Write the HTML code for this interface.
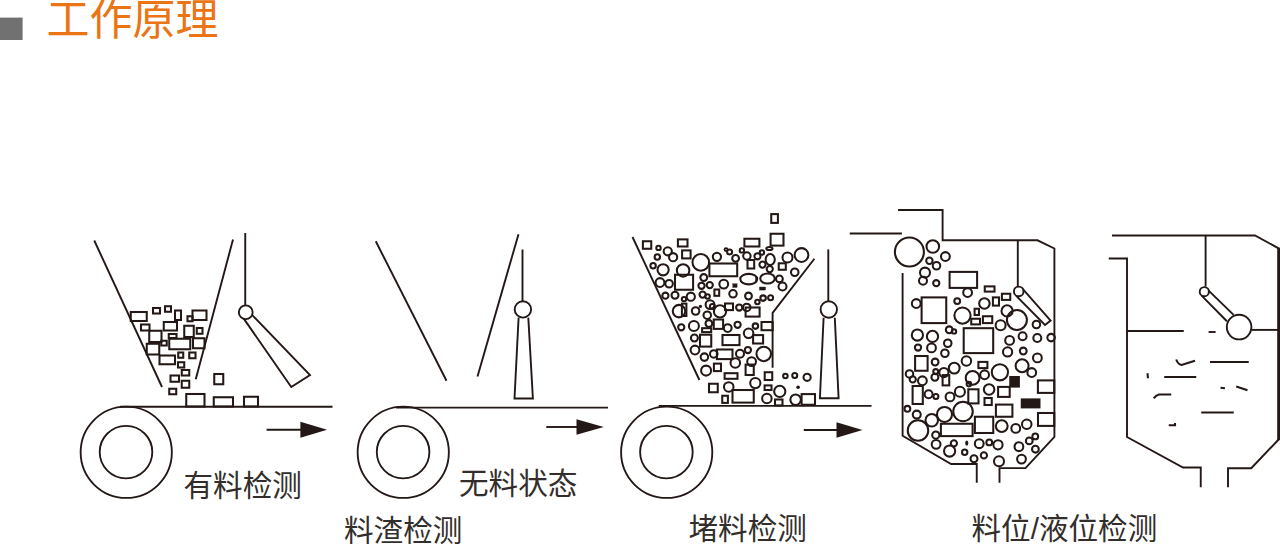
<!DOCTYPE html>
<html lang="zh-CN">
<head>
<meta charset="utf-8">
<title>工作原理</title>
<style>
html,body{margin:0;padding:0;background:#fff;}
body{width:1280px;height:544px;overflow:hidden;font-family:"Liberation Sans",sans-serif;}
svg{display:block;position:absolute;left:0;top:0;}
.ink{fill:none;stroke:#231815;stroke-width:1.9;stroke-linecap:butt;stroke-linejoin:miter;}
.lbl{font-family:"Liberation Sans","Noto Sans CJK SC",sans-serif;font-size:29.6px;fill:#332e2b;}
.ttl{font-family:"Liberation Sans","Noto Sans CJK SC",sans-serif;font-size:43px;fill:#eb7414;}
</style>
</head>
<body>
<svg width="1280" height="544" viewBox="0 0 1280 544">
<rect x="0" y="0" width="1280" height="544" fill="#ffffff"/>
<rect x="0" y="17.6" width="22.6" height="22.4" fill="#727171"/>
<g class="ink">
<g id="s1">
<line x1="94.25" y1="240.5" x2="162" y2="387"/>
<line x1="233" y1="239.5" x2="195.75" y2="379.25"/>
<line x1="245.25" y1="233" x2="245.25" y2="305.4"/>
<circle cx="245.75" cy="312.25" r="6.9"/>
<polyline points="243.75,318.6 291.25,387 310,375 252.3,315.2"/>
<line x1="120" y1="406.7" x2="332.5" y2="406.7" stroke-width="1.85"/>
<circle cx="126.25" cy="452.3" r="45.6" stroke-width="1.85"/>
<circle cx="126" cy="452.1" r="26.3" stroke-width="1.85"/>
<line x1="266.6" y1="429.7" x2="301" y2="429.7" stroke-width="1.9"/>
<polygon points="300.4,421.7 327.1,429.7 300.4,437.7" stroke-width="0" fill="#231815"/>
<g stroke-width="2.05">
<rect x="130.75" y="312" width="16" height="9"/>
<rect x="153" y="308" width="7" height="5.5"/>
<rect x="165" y="306.25" width="6" height="5.5"/>
<rect x="175" y="310.5" width="6" height="9.5"/>
<rect x="192.5" y="310.5" width="14" height="9.5"/>
<rect x="187.5" y="316.25" width="5" height="5"/>
<rect x="141" y="324.5" width="8.5" height="6"/>
<rect x="163.75" y="322" width="13.25" height="8.5"/>
<rect x="184.25" y="325.75" width="9.5" height="11.25"/>
<rect x="196.75" y="328" width="5.75" height="5.75"/>
<rect x="149.25" y="330.75" width="12.25" height="11.25"/>
<rect x="168.75" y="334" width="7.75" height="4"/>
<rect x="169.25" y="338.75" width="21" height="10.5"/>
<rect x="193" y="338.25" width="11.5" height="10"/>
<rect x="161.25" y="340.75" width="5.5" height="4.75"/>
<rect x="146.75" y="343.75" width="12.5" height="10.75"/>
<rect x="159.5" y="355.5" width="15.5" height="8.75"/>
<rect x="178.25" y="352.5" width="5" height="5.25"/>
<rect x="189.25" y="352.5" width="6.25" height="5.75"/>
<rect x="178" y="362.25" width="6.25" height="5.25"/>
<rect x="181.75" y="370" width="7.5" height="5.5"/>
<rect x="170.5" y="375.5" width="8.5" height="6.25"/>
<rect x="181.75" y="380.75" width="7.5" height="7"/>
<rect x="169.25" y="388.75" width="7" height="5.5"/>
<rect x="214.25" y="374" width="9" height="10.25"/>
<rect x="186.25" y="394" width="18.25" height="12.5"/>
<rect x="213.75" y="397.25" width="19.25" height="9.25"/>
<rect x="244" y="396.75" width="14" height="9.75"/>
</g>
</g>
<g id="s2">
<line x1="375.75" y1="241.25" x2="446.5" y2="380.75"/>
<line x1="518.5" y1="234.25" x2="477.5" y2="376.5"/>
<line x1="522.5" y1="249.5" x2="522.5" y2="301.2"/>
<circle cx="522.9" cy="309.4" r="8.2"/>
<polyline points="518.6,317.6 514.5,398.5 532.9,398.5 528.3,317.6"/>
<line x1="396" y1="407.6" x2="608" y2="407.6" stroke-width="1.85"/>
<circle cx="403.25" cy="452.3" r="45.6" stroke-width="1.85"/>
<circle cx="403.1" cy="452.1" r="26.3" stroke-width="1.85"/>
<line x1="546.25" y1="427" x2="577.5" y2="427" stroke-width="1.9"/>
<polygon points="576.5,419.2 603.75,427 576.5,434.8" stroke-width="0" fill="#231815"/>
</g>
<g id="s3">
<line x1="632.5" y1="237" x2="699.4" y2="380"/>
<polyline points="814.4,258.75 772.6,312.9 772.6,367.7"/>
<line x1="828.3" y1="249.4" x2="828.3" y2="301.3"/>
<circle cx="828.8" cy="309.5" r="8.2"/>
<polyline points="823.6,317.8 819.9,398.2 838.6,398.2 834.8,317.8"/>
<line x1="658.75" y1="405.9" x2="871.5" y2="405.9" stroke-width="1.85"/>
<circle cx="666.7" cy="452.3" r="45.6" stroke-width="1.85"/>
<circle cx="666.4" cy="452.1" r="26.3" stroke-width="1.85"/>
<line x1="803.75" y1="430" x2="837.5" y2="430" stroke-width="1.9"/>
<polygon points="836.5,422.2 862.5,430 836.5,437.8" stroke-width="0" fill="#231815"/>
<g stroke-width="2.05">
<rect x="642.9" y="241.25" width="8.35" height="7.5"/>
<rect x="677.9" y="239.4" width="9.6" height="7.1"/>
<rect x="682.1" y="250.4" width="8.5" height="8"/>
<rect x="744.4" y="238.75" width="15" height="7.75"/>
<rect x="770.6" y="233.75" width="12.9" height="11.85"/>
<rect x="771.25" y="214.1" width="6.65" height="8.8"/>
<rect x="709.4" y="263.5" width="27.8" height="12.75"/>
<rect x="747.5" y="260" width="6.7" height="8.5"/>
<rect x="778.75" y="263.3" width="7.05" height="6.45"/>
<rect x="675" y="274.75" width="18.1" height="15"/>
<rect x="714.4" y="289.5" width="4.8" height="6.3"/>
<rect x="681.9" y="303.6" width="4.5" height="12.4"/>
<rect x="725" y="303.5" width="8" height="6.6"/>
<rect x="745.6" y="307.5" width="14" height="9.1"/>
<rect x="713.75" y="319.5" width="9.35" height="9.4"/>
<rect x="702.1" y="328.2" width="9.1" height="3.9"/>
<rect x="761.5" y="322" width="11.1" height="8.2"/>
<rect x="753.1" y="335.1" width="10" height="8.4"/>
<rect x="700" y="334.7" width="11.25" height="11.9"/>
<rect x="722.5" y="335" width="17" height="10.1"/>
<rect x="716.9" y="349.5" width="15.6" height="9.6"/>
<rect x="745.6" y="364.6" width="8.15" height="10.4"/>
<rect x="713.9" y="363.6" width="7.1" height="7.5"/>
<rect x="724.6" y="373.2" width="12.9" height="5.6"/>
<rect x="764.7" y="372.25" width="7.55" height="7.75"/>
<rect x="709" y="383.75" width="8.75" height="8.5"/>
<rect x="764.6" y="385.4" width="6.9" height="4.6"/>
<rect x="732.5" y="390" width="21.25" height="12.6"/>
<rect x="722.25" y="395.75" width="5.65" height="7.15"/>
<rect x="775" y="399.5" width="7.5" height="5.9"/>
<rect x="801.6" y="394.1" width="13.4" height="10.65"/>
<rect x="732.75" y="283.75" width="4.35" height="3.75" stroke-width="0.3" fill="#231815"/>
<rect x="759.4" y="287" width="6.2" height="3.1" stroke-width="0.3" fill="#231815"/>
<circle cx="658.5" cy="247.9" r="2.2"/>
<circle cx="667.75" cy="251.25" r="4.1"/>
<circle cx="673.1" cy="257.2" r="4.1"/>
<circle cx="657.3" cy="257" r="2.7"/>
<circle cx="700.8" cy="262.4" r="8.3"/>
<circle cx="716.9" cy="256.8" r="4.1"/>
<circle cx="653.1" cy="265.8" r="2.7"/>
<circle cx="729.6" cy="251.9" r="2.5"/>
<circle cx="735.6" cy="258.3" r="3.4"/>
<circle cx="741.9" cy="250.4" r="2.2"/>
<circle cx="746.9" cy="256" r="3.7"/>
<circle cx="761.9" cy="252.5" r="2.2"/>
<circle cx="757.5" cy="256.25" r="3.1"/>
<circle cx="762.5" cy="264.6" r="3.1"/>
<circle cx="787.5" cy="257.5" r="5"/>
<circle cx="801.5" cy="255" r="6.9"/>
<circle cx="663.1" cy="269.75" r="5.6"/>
<circle cx="683.1" cy="270.4" r="6.25"/>
<circle cx="703.75" cy="277.5" r="3.4"/>
<circle cx="660" cy="282.5" r="4.4"/>
<circle cx="669.1" cy="283.75" r="3.75"/>
<circle cx="701.5" cy="285.75" r="3.1"/>
<circle cx="709.75" cy="285.1" r="3.1"/>
<circle cx="723.75" cy="284.1" r="4.4"/>
<circle cx="665.4" cy="295.7" r="3.1"/>
<circle cx="675" cy="295.2" r="3.5"/>
<circle cx="690.8" cy="296.7" r="4.1"/>
<circle cx="684" cy="299.1" r="2.2"/>
<circle cx="702.6" cy="294.6" r="3.1"/>
<circle cx="707.6" cy="296.5" r="2.2"/>
<circle cx="733" cy="293.8" r="3.75"/>
<circle cx="748.5" cy="296" r="3.4"/>
<circle cx="779.4" cy="278.9" r="3.4"/>
<circle cx="782.5" cy="286.5" r="4"/>
<circle cx="763.1" cy="298.1" r="2.75"/>
<circle cx="770.6" cy="297.7" r="2.5"/>
<circle cx="757.4" cy="302" r="2.2"/>
<circle cx="769.75" cy="269.1" r="3.1"/>
<circle cx="794.75" cy="272.25" r="3.75"/>
<circle cx="679" cy="311.1" r="6.25"/>
<circle cx="695.6" cy="311" r="3.75"/>
<circle cx="710" cy="304.6" r="4.4"/>
<circle cx="712.4" cy="306.4" r="2.5"/>
<circle cx="720" cy="311.4" r="6.1"/>
<circle cx="739.2" cy="307.5" r="3.1"/>
<circle cx="746.75" cy="307.4" r="3.75"/>
<circle cx="707.25" cy="315.2" r="3.75"/>
<circle cx="681.25" cy="327.25" r="3.1"/>
<circle cx="693.9" cy="325.9" r="5"/>
<circle cx="708.9" cy="323.5" r="3.4"/>
<circle cx="727.7" cy="328.1" r="3.9"/>
<circle cx="737.6" cy="324.75" r="3.1"/>
<circle cx="755.4" cy="326.1" r="2.75"/>
<circle cx="748.6" cy="333.3" r="4.75"/>
<circle cx="694.4" cy="338" r="3.5"/>
<circle cx="695" cy="350" r="4.4"/>
<circle cx="704.4" cy="357.1" r="3.75"/>
<circle cx="713.75" cy="353.9" r="3.75"/>
<circle cx="740" cy="353.8" r="4"/>
<circle cx="747.9" cy="350" r="3.1"/>
<circle cx="763.75" cy="353.9" r="7.25"/>
<circle cx="735.3" cy="362.9" r="4.75"/>
<circle cx="751.6" cy="361.6" r="4.4"/>
<circle cx="706.1" cy="370.6" r="5"/>
<circle cx="755.3" cy="383.1" r="5.1"/>
<circle cx="785.4" cy="375.9" r="2.25"/>
<circle cx="794.75" cy="375.4" r="2.5"/>
<circle cx="807.1" cy="377.25" r="3.6"/>
<circle cx="728.75" cy="386.9" r="4.75"/>
<circle cx="766.9" cy="398.5" r="4.75"/>
<circle cx="779.75" cy="391.4" r="5.6"/>
<circle cx="795.6" cy="399.75" r="5.25"/>
<circle cx="726" cy="249.6" r="1.5" stroke-width="1.9"/>
<circle cx="700.4" cy="306.4" r="1.6" stroke-width="0" fill="#231815"/>
<circle cx="798.1" cy="387.25" r="1.8" stroke-width="0" fill="#231815"/>
<ellipse cx="769.4" cy="248.5" rx="3.1" ry="1.6"/>
<ellipse cx="770.2" cy="259.5" rx="4.6" ry="5.6"/>
<ellipse cx="748.75" cy="279.1" rx="8.5" ry="5.25"/>
<ellipse cx="767.5" cy="278.5" rx="7.25" ry="5"/>
<path d="M755.6,276.2 A3,3.2 0 0 1 755.6,282 Z" stroke-width="0.6" fill="#231815"/>
</g>
</g>
<g id="s4">
<line x1="849.75" y1="233.5" x2="901.9" y2="233.5"/>
<polyline points="898.1,210 942.6,210 942.6,240.3 1037.5,240.3 1054.4,248.5 1054.4,437 1025.5,468.1 999.5,468.1 999.5,482.7"/>
<polyline points="902.6,272.9 902.6,435.8 951.1,464 976.75,464 976.75,482.7"/>
<line x1="1017.8" y1="240.3" x2="1017.8" y2="286.6"/>
<circle cx="1018.75" cy="291.4" r="4.8"/>
<polyline points="1022.9,289.2 1050.6,320.6 1045,325 1016,295.6"/>
<g stroke-width="2.05">
<circle cx="909.4" cy="252" r="14.5"/>
<circle cx="932.8" cy="246.5" r="6.3"/>
<circle cx="945.4" cy="256.5" r="4.4"/>
<circle cx="929.4" cy="260.8" r="3.2"/>
<circle cx="936.5" cy="265.75" r="3.75"/>
<circle cx="925" cy="272.6" r="5"/>
<circle cx="923" cy="280.7" r="4"/>
<circle cx="936.25" cy="283.2" r="3.1"/>
<circle cx="967.6" cy="292.5" r="4.4"/>
<circle cx="957.2" cy="301.1" r="2.9"/>
<circle cx="984.4" cy="303.4" r="5.25"/>
<circle cx="916.25" cy="303.5" r="4.4"/>
<circle cx="962.5" cy="315.6" r="8.1"/>
<circle cx="1007.1" cy="310.9" r="5.6"/>
<circle cx="1016.9" cy="320" r="10"/>
<circle cx="1000.6" cy="325.2" r="5"/>
<circle cx="1036.4" cy="324.5" r="3.75"/>
<circle cx="949.2" cy="329.75" r="3.4"/>
<circle cx="954" cy="331.4" r="2.2"/>
<circle cx="932.5" cy="336.4" r="5.6"/>
<circle cx="917.4" cy="335" r="5.6"/>
<circle cx="1022.6" cy="336.25" r="4"/>
<circle cx="1037.3" cy="338" r="4"/>
<circle cx="1051.1" cy="337.6" r="3.75"/>
<circle cx="918" cy="347.5" r="3.1"/>
<circle cx="931.5" cy="347.9" r="4.4"/>
<circle cx="947.75" cy="343.25" r="3.75"/>
<circle cx="944.9" cy="353.25" r="3.75"/>
<circle cx="1009.6" cy="340.4" r="4.4"/>
<circle cx="1007.6" cy="351.9" r="4.6"/>
<circle cx="1023.25" cy="351" r="3.4"/>
<circle cx="1037.4" cy="357.9" r="4.4"/>
<circle cx="935.1" cy="362" r="3.4"/>
<circle cx="966.4" cy="361" r="4.75"/>
<circle cx="954.25" cy="368.1" r="5.4"/>
<circle cx="943.9" cy="372.5" r="4.6"/>
<circle cx="935.75" cy="371.6" r="2.5"/>
<circle cx="909.5" cy="373.9" r="3.75"/>
<circle cx="912.75" cy="379.4" r="3.1"/>
<circle cx="922.4" cy="380.75" r="4.4"/>
<circle cx="934.9" cy="377.25" r="3.5"/>
<circle cx="972.6" cy="377.9" r="6.9"/>
<circle cx="984.6" cy="374.75" r="4.4"/>
<circle cx="999.9" cy="372.25" r="8.1"/>
<circle cx="1022.1" cy="365.75" r="6.5"/>
<circle cx="1031.75" cy="372.5" r="4.4"/>
<circle cx="989.1" cy="389.4" r="5.25"/>
<circle cx="959.9" cy="391.8" r="5"/>
<circle cx="928.6" cy="394.2" r="4"/>
<circle cx="935.9" cy="396.5" r="2.5"/>
<circle cx="950" cy="396.9" r="4.4"/>
<circle cx="907.4" cy="408.75" r="2.9"/>
<circle cx="916.75" cy="414.6" r="4"/>
<circle cx="931.75" cy="420.25" r="6.25"/>
<circle cx="944.5" cy="414.4" r="7.5"/>
<circle cx="963" cy="411.5" r="9.75"/>
<circle cx="918" cy="430.5" r="10.25"/>
<circle cx="1001.75" cy="426.1" r="5.9"/>
<circle cx="1015.75" cy="428.4" r="4.4"/>
<circle cx="1026.75" cy="424.25" r="4.75"/>
<circle cx="935.8" cy="435.1" r="3.6"/>
<circle cx="936.1" cy="444.3" r="4.4"/>
<circle cx="953.9" cy="443.3" r="3.1"/>
<circle cx="979.25" cy="443.7" r="4.4"/>
<circle cx="989.25" cy="442.4" r="2.9"/>
<circle cx="998" cy="444.8" r="4.6"/>
<circle cx="1018.9" cy="446.7" r="4.4"/>
<circle cx="1029.25" cy="440.9" r="3.4"/>
<circle cx="1035.25" cy="436.4" r="2.9"/>
<circle cx="1035.4" cy="449.2" r="3.4"/>
<circle cx="949.6" cy="451" r="5.6"/>
<circle cx="964.7" cy="452.3" r="2.7"/>
<circle cx="983.9" cy="455.4" r="3.1"/>
<circle cx="974" cy="458.75" r="3.5"/>
<circle cx="999" cy="461.25" r="5"/>
<circle cx="1021.5" cy="459.1" r="4.4"/>
<circle cx="968.9" cy="384.1" r="2.3" stroke-width="2.0"/>
<ellipse cx="966.75" cy="443.1" rx="1.6" ry="2.6" stroke-width="0" fill="#231815"/>
<rect x="949.6" y="271.9" width="27.5" height="16"/>
<rect x="984.75" y="286.4" width="9.75" height="5.2"/>
<rect x="1001.9" y="293.75" width="8.35" height="6.15"/>
<rect x="992.9" y="297.4" width="6.1" height="8.2"/>
<rect x="921.6" y="297.4" width="24.65" height="25.7"/>
<rect x="974.6" y="308.75" width="4.4" height="6.25"/>
<rect x="971.25" y="318.75" width="8.75" height="5.65"/>
<rect x="982.9" y="316.25" width="9.35" height="6.85"/>
<rect x="963.7" y="328.2" width="29.5" height="24.9"/>
<rect x="915.1" y="356" width="12.5" height="14.75"/>
<rect x="978.4" y="361.9" width="9" height="6.2"/>
<rect x="942.6" y="375.1" width="6.65" height="10.3"/>
<rect x="1037.9" y="380.4" width="16.35" height="12.5"/>
<rect x="998.1" y="386.9" width="11.6" height="10"/>
<rect x="968.3" y="389.3" width="10.2" height="14.1"/>
<rect x="912.6" y="386" width="10.2" height="18"/>
<rect x="984.5" y="398" width="7.25" height="7"/>
<rect x="995.9" y="404.6" width="16.5" height="12.15"/>
<rect x="1038" y="413" width="16.25" height="12.9"/>
<rect x="940.9" y="423.75" width="31.7" height="12.35"/>
<rect x="974.9" y="416.75" width="18.35" height="16.25"/>
<rect x="1009.25" y="376" width="10.65" height="11.6" stroke-width="0" fill="#231815"/>
<rect x="1020.75" y="398.4" width="19.75" height="10" stroke-width="0" fill="#231815"/>
</g>
</g>
<g id="s5">
<polyline points="1112,235.5 1255,235.5 1278.6,248.3"/>
<line x1="1278.6" y1="247.6" x2="1278.6" y2="440.2" stroke-width="2.8"/>
<polyline points="1278.6,439.5 1251.25,468.25 1228,468.25 1228,487.25"/>
<polyline points="1108.75,258.5 1127,258.5 1127,437 1183,467.5 1200.75,467.5 1200.75,487.25"/>
<line x1="1205.6" y1="235.5" x2="1205.6" y2="286.6"/>
<circle cx="1204.3" cy="291.7" r="4.6"/>
<line x1="1208.4" y1="290.4" x2="1233.6" y2="314.9"/>
<line x1="1201.6" y1="295.6" x2="1226.9" y2="321.25"/>
<circle cx="1239.1" cy="327.1" r="12.3"/>
<line x1="1127" y1="331" x2="1183.75" y2="331"/>
<line x1="1208.6" y1="332" x2="1215.6" y2="332"/>
<line x1="1252" y1="329.9" x2="1279" y2="329.9"/>
<g stroke-width="2.1">
<path d="M1176.25,359.5 Q1178,364.5 1181.5,365 L1195,360.75"/>
<line x1="1210" y1="362" x2="1248.75" y2="362"/>
<line x1="1147.5" y1="373.25" x2="1148" y2="378.25"/>
<line x1="1164.25" y1="377" x2="1196.25" y2="377"/>
<line x1="1220.5" y1="387.75" x2="1225" y2="388.25"/>
<line x1="1236.25" y1="386.5" x2="1247.5" y2="390.25"/>
<path d="M1153.75,398.25 Q1156.5,394.8 1159,394.5 L1171.25,394.5"/>
<line x1="1201.25" y1="412.5" x2="1233.75" y2="412.5"/>
<path d="M1168.75,425.25 L1175,425.25 L1175,423"/>
</g>
</g>
</g>
<text class="ttl" x="46.5" y="35">工作原理</text>
<text class="lbl" x="183.5" y="496">有料检测</text>
<text class="lbl" x="459" y="494.3">无料状态</text>
<text class="lbl" x="344" y="541">料渣检测</text>
<text class="lbl" x="688.5" y="538.5">堵料检测</text>
<text class="lbl" x="971.5" y="539">料位/液位检测</text>
</svg>
</body>
</html>
